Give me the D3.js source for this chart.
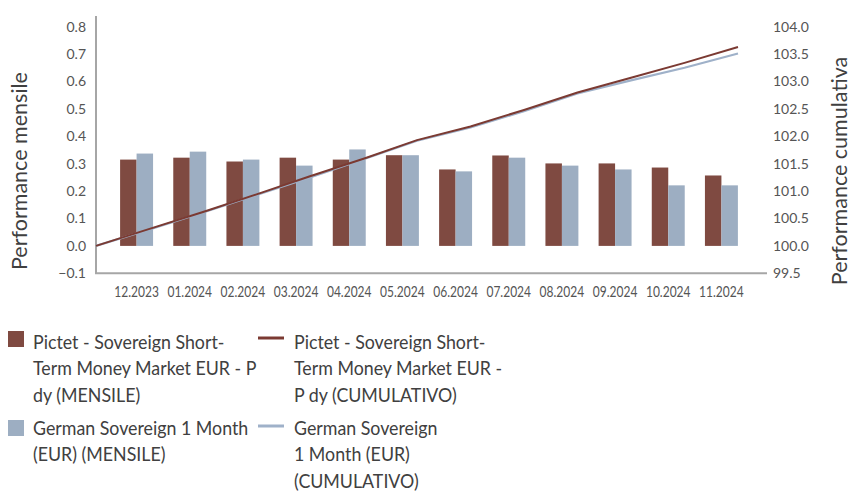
<!DOCTYPE html>
<html>
<head>
<meta charset="utf-8">
<script src="https://cdn.jsdelivr.net/npm/d3@7"></script>
<style>
  body { margin: 0; background: #fff; }
  svg { display: block; }
  .tick text { font-family: Lato, "Open Sans", sans-serif; font-size: 14px; fill: #555; }
  .xaxis .tick text { font-size: 15px; }
  .title, .legend text { font-family: Lato, "Open Sans", sans-serif; fill: #404040; }
</style>
</head>
<body>
<div id="chart"></div>
<script>
// monthly performance (%)
let months = ["12.2023", "01.2024", "02.2024", "03.2024", "04.2024", "05.2024",
              "06.2024", "07.2024", "08.2024", "09.2024", "10.2024", "11.2024"];
let fundMonthly  = [0.315, 0.322, 0.308, 0.322, 0.315, 0.331, 0.279, 0.330, 0.301, 0.301, 0.286, 0.257];
let benchMonthly = [0.337, 0.344, 0.315, 0.293, 0.352, 0.331, 0.272, 0.322, 0.293, 0.279, 0.221, 0.221];

// cumulative index, month ends (start = 100)
let fundCum  = [100.00, 100.31, 100.62, 100.94, 101.27, 101.59, 101.93, 102.18, 102.48, 102.80, 103.07, 103.34, 103.63];
let benchCum = [100.00, 100.30, 100.61, 100.93, 101.25, 101.58, 101.92, 102.16, 102.46, 102.78, 103.02, 103.25, 103.51];

let leftTicks  = [-0.1, 0, 0.1, 0.2, 0.3, 0.4, 0.5, 0.6, 0.7, 0.8];
let rightTicks = [99.5, 100, 100.5, 101, 101.5, 102, 102.5, 103, 103.5, 104];

let seriesNames = [
    ["Pictet - Sovereign Short-", "Term Money Market EUR - P", "dy (MENSILE)"],
    ["German Sovereign 1 Month", "(EUR) (MENSILE)"],
    ["Pictet - Sovereign Short-", "Term Money Market EUR -", "P dy (CUMULATIVO)"],
    ["German Sovereign", "1 Month (EUR)", "(CUMULATIVO)"]
];

let barRed = "#7f4a41", barBlue = "#9daec2";
let lineRed = "#7b3a32", lineBlue = "#9fb1c9";

let width = 852, height = 493;
let plotTop = 26.7, plotBottom = 273.3;

let svg = d3.select("#chart").append("svg")
    .attr("width", width)
    .attr("height", height);

let yL = d3.scaleLinear().domain([-0.1, 0.8]).range([plotBottom, plotTop]);
let yR = d3.scaleLinear().domain([99.5, 104]).range([plotBottom, plotTop]);

let x = d3.scaleBand().domain(months).range([110, 748]).paddingInner(0.38).paddingOuter(0.19);
let xs = d3.scaleBand().domain(["fund", "bench"]).range([0, x.bandwidth()]);
let xLine = d3.scaleLinear().domain([0, fundCum.length - 1]).range([96, 738]);

// bars
let groups = svg.append("g").selectAll("g")
    .data(months.map((m, i) => ({ m, vals: [["fund", fundMonthly[i]], ["bench", benchMonthly[i]]] })))
    .enter().append("g")
    .attr("transform", d => `translate(${x(d.m)},0)`);

groups.selectAll("rect")
    .data(d => d.vals)
    .enter().append("rect")
    .attr("x", d => xs(d[0]))
    .attr("width", xs.bandwidth())
    .attr("y", d => yL(d[1]))
    .attr("height", d => yL(0) - yL(d[1]))
    .attr("fill", d => d[0] == "fund" ? barRed : barBlue);

// axes
svg.append("g")
    .attr("transform", "translate(96,0)")
    .call(d3.axisLeft(yL).tickValues(leftTicks).tickFormat(d3.format(".1f")).tickSize(0).tickPadding(10))
    .call(g => g.select(".domain").remove());

svg.append("g")
    .attr("transform", "translate(767,0)")
    .call(d3.axisRight(yR).tickValues(rightTicks).tickFormat(d3.format(".1f")).tickSize(0).tickPadding(6))
    .call(g => g.select(".domain").remove());

svg.append("g")
    .attr("class", "xaxis")
    .attr("transform", `translate(0,${plotBottom})`)
    .call(d3.axisBottom(x).tickSize(0).tickPadding(13))
    .call(g => g.select(".domain").remove())
    .selectAll("text")
    .attr("transform", "scale(0.8,1)");

svg.append("line")
    .attr("x1", 96).attr("x2", 96).attr("y1", 16).attr("y2", plotBottom)
    .attr("stroke", "#a6a6a6").attr("stroke-width", 2);
svg.append("line")
    .attr("x1", 95).attr("x2", 767).attr("y1", plotBottom).attr("y2", plotBottom)
    .attr("stroke", "#a6a6a6").attr("stroke-width", 2);

// cumulative lines
let line = d3.line().x((d, i) => xLine(i)).y(d => yR(d));
svg.append("path").datum(benchCum)
    .attr("d", line).attr("fill", "none")
    .attr("stroke", lineBlue).attr("stroke-width", 2.2);
svg.append("path").datum(fundCum)
    .attr("d", line).attr("fill", "none")
    .attr("stroke", lineRed).attr("stroke-width", 2);

// axis titles
svg.append("text")
    .attr("class", "title")
    .attr("transform", "translate(27,171) rotate(-90)")
    .attr("text-anchor", "middle")
    .style("font-size", "21.5px")
    .text("Performance mensile");

svg.append("text")
    .attr("class", "title")
    .attr("transform", "translate(847,171) rotate(-90)")
    .attr("text-anchor", "middle")
    .style("font-size", "21.5px")
    .text("Performance cumulativa");

// legend
let legend = svg.append("g").attr("class", "legend");
let legendItems = [
    { name: seriesNames[0], kind: "rect", color: barRed,   x: 8,   y: 331, ty: 349 },
    { name: seriesNames[1], kind: "rect", color: barBlue,  x: 8,   y: 420, ty: 435 },
    { name: seriesNames[2], kind: "line", color: lineRed,  x: 258, y: 338, ty: 349 },
    { name: seriesNames[3], kind: "line", color: lineBlue, x: 258, y: 426, ty: 435 }
];

legendItems.forEach(item => {
    if (item.kind == "rect") {
        legend.append("rect").attr("x", item.x).attr("y", item.y)
            .attr("width", 16).attr("height", 16).attr("fill", item.color);
    } else {
        legend.append("line").attr("x1", item.x).attr("x2", item.x + 26)
            .attr("y1", item.y).attr("y2", item.y)
            .attr("stroke", item.color).attr("stroke-width", 3);
    }
    let tx = item.x + (item.kind == "rect" ? 25 : 36);
    let t = legend.append("g")
        .attr("transform", `translate(${tx},${item.ty}) scale(0.89,1)`)
        .append("text")
        .style("font-size", "20px");
    item.name.forEach((s, i) => {
        t.append("tspan").attr("x", 0).attr("y", i * 26.5).text(s);
    });
});
</script>
</body>
</html>
